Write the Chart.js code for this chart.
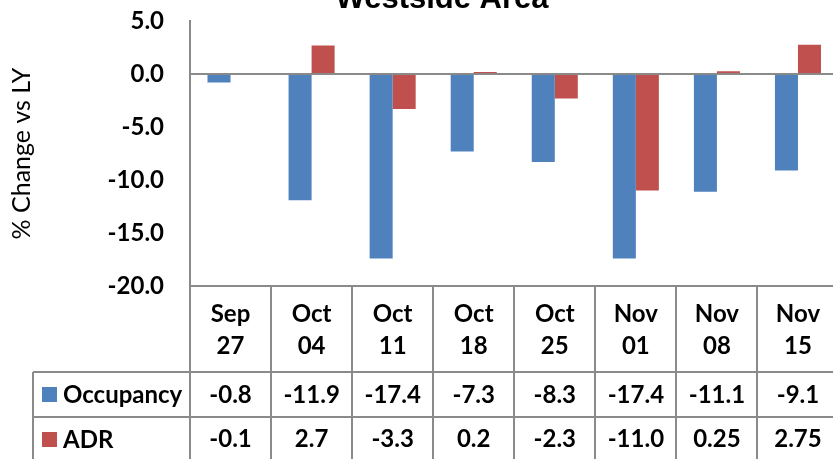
<!DOCTYPE html>
<html lang="en">
<head>
  <meta charset="UTF-8" />
  <title>Westside Area</title>
  <script src="https://cdn.jsdelivr.net/npm/chart.js"></script>
  <style>
    html, body {
      margin: 0;
      padding: 0;
      background: #fff;
      overflow: hidden;
      width: 833px;
      height: 459px;
    }
    #chart {
      position: absolute;
      left: 0;
      top: 0;
    }
  </style>
</head>
<body>
  <canvas id="chart" width="850" height="470"></canvas>

  <script>
    // data
    const chartTitle = "Westside Area";
    const weekMonths = ["Sep", "Oct", "Oct", "Oct", "Oct", "Nov", "Nov", "Nov"];
    const weekDays = ["27", "04", "11", "18", "25", "01", "08", "15"];
    const occupancy = [-0.8, -11.9, -17.4, -7.3, -8.3, -17.4, -11.1, -9.1];
    const adr = [-0.1, 2.7, -3.3, 0.2, -2.3, -11.0, 0.25, 2.75];
    const seriesNames = ["Occupancy", "ADR"];
    const seriesColors = ["#4F81BD", "#C0504D"];

    const gridGray = "#8a8a8a";
    const boldFont = "bold 24px Lato";

    function fmt(v) {
      // 0.25 / 2.75 keep two decimals, others one
      return Math.abs(Math.round(v * 100) % 10) === 0 ? v.toFixed(1) : v.toFixed(2);
    }

    // title + data table under the plot, lined up with the x scale
    const tablePlugin = {
      id: "dataTable",
      afterDraw(chart) {
        const ctx = chart.ctx;
        const x = chart.scales.x;
        const area = chart.chartArea;
        const n = weekMonths.length;
        const step = (area.right - area.left) / n;
        const W = chart.width, H = chart.height;

        const headBottom = area.bottom + 86;
        const row1Bottom = headBottom + 45;
        const tableLeft = 33;

        ctx.save();

        // title (cut off at top like the source)
        ctx.fillStyle = "#000";
        ctx.font = "bold 31px 'Liberation Sans'";
        ctx.textAlign = "center";
        ctx.textBaseline = "alphabetic";
        ctx.fillText(chartTitle, 442, 8);

        // grid lines
        ctx.strokeStyle = gridGray;
        ctx.lineWidth = 2;
        ctx.beginPath();
        ctx.moveTo(area.left, area.bottom);
        ctx.lineTo(W, area.bottom);
        ctx.moveTo(tableLeft, headBottom);
        ctx.lineTo(W, headBottom);
        ctx.moveTo(tableLeft, row1Bottom);
        ctx.lineTo(W, row1Bottom);
        ctx.moveTo(tableLeft, headBottom);
        ctx.lineTo(tableLeft, H);
        for (let i = 0; i <= n; i++) {
          const bx = Math.round(area.left + i * step);
          ctx.moveTo(bx, area.bottom);
          ctx.lineTo(bx, H);
        }
        ctx.stroke();

        // header + values
        ctx.fillStyle = "#000";
        ctx.font = boldFont;
        ctx.textAlign = "center";
        ctx.textBaseline = "middle";
        for (let i = 0; i < n; i++) {
          const cx = x.getPixelForValue(i);
          ctx.fillText(weekMonths[i], cx, area.bottom + 28);
          ctx.fillText(weekDays[i], cx, area.bottom + 60);
          ctx.fillText(fmt(occupancy[i]), cx, headBottom + 23);
          ctx.fillText(fmt(adr[i]), cx, row1Bottom + 22);
        }

        // legend keys in the first column
        const rowsY = [headBottom + 22, row1Bottom + 22];
        ctx.textAlign = "left";
        for (let r = 0; r < 2; r++) {
          ctx.fillStyle = seriesColors[r];
          ctx.fillRect(42, rowsY[r] - 7, 15, 15);
          ctx.fillStyle = "#000";
          ctx.fillText(seriesNames[r], 63, rowsY[r] + 1);
        }

        ctx.restore();
      }
    };

    const labels = weekMonths.map((m, i) => m + " " + weekDays[i]);

    new Chart(document.getElementById("chart"), {
      type: "bar",
      data: {
        labels: labels,
        datasets: [
          { label: seriesNames[0], data: occupancy, backgroundColor: seriesColors[0] },
          { label: seriesNames[1], data: adr, backgroundColor: seriesColors[1] }
        ]
      },
      options: {
        responsive: false,
        animation: false,
        devicePixelRatio: 1,
        categoryPercentage: 0.568,
        barPercentage: 1.0,
        layout: { padding: { left: 0, top: 21, right: 11.5, bottom: 184 } },
        plugins: {
          legend: { display: false },
          tooltip: { enabled: false }
        },
        scales: {
          x: {
            ticks: { display: false },
            grid: { display: false, drawTicks: false },
            border: { display: false },
            afterFit(scale) { scale.height = 0; }
          },
          y: {
            min: -20,
            max: 5,
            ticks: {
              stepSize: 5,
              padding: 26,
              color: "#000",
              font: { family: "Lato", size: 24, weight: "bold" },
              callback: v => v.toFixed(1)
            },
            grid: {
              drawTicks: false,
              lineWidth: 2,
              color: ctx => (ctx.tick && ctx.tick.value === 0 ? gridGray : "rgba(0,0,0,0)")
            },
            border: { display: true, color: gridGray, width: 2 },
            title: {
              display: true,
              text: "% Change vs LY",
              color: "#000",
              font: { family: "Lato", size: 25 },
              padding: { top: 7, bottom: 0 }
            },
            afterFit(scale) {
              scale.width = 190;
              scale.paddingTop = 0;
              scale.paddingBottom = 0;
            }
          }
        }
      },
      plugins: [tablePlugin]
    });
  </script>
</body>
</html>
